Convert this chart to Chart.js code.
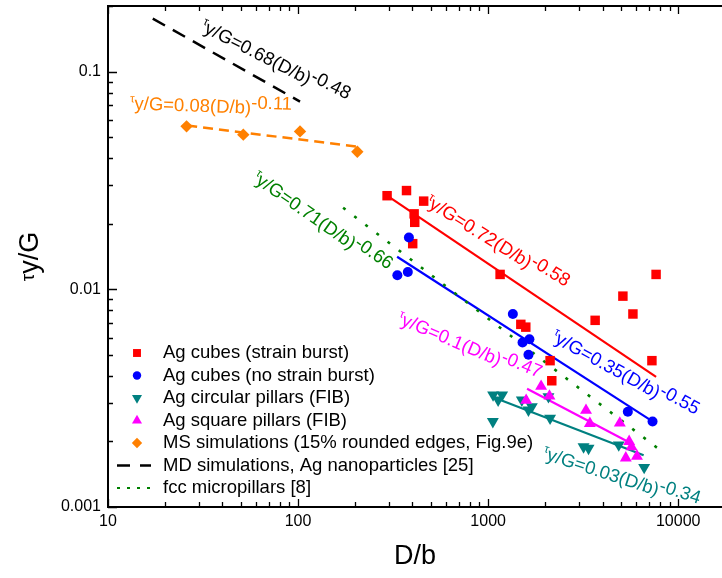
<!DOCTYPE html>
<html>
<head>
<meta charset="utf-8">
<script src="https://cdn.jsdelivr.net/npm/chart.js@4.4.0/dist/chart.umd.min.js"></script>
<style>
  html, body { margin: 0; padding: 0; background: #fff; }
</style>
</head>
<body>
<canvas id="myChart" width="722" height="578"></canvas>
<script>
// values: D/b on x, tau_y/G on y
const cubesBurstX = [294, 372, 458, 408, 411, 401, 1156, 1486, 1578, 2118, 2162, 3656, 5117, 5778, 7273, 7650];
const cubesBurstY = [0.0269, 0.0284, 0.0254, 0.0222, 0.0203, 0.0162, 0.0117, 0.0069, 0.0067, 0.0047, 0.0038, 0.0072, 0.0093, 0.0077, 0.0047, 0.0117];

const cubesNoBurstX = [383, 333, 378, 1349, 1649, 1517, 1630, 5433, 7330];
const cubesNoBurstY = [0.0173, 0.0116, 0.0120, 0.0077, 0.0059, 0.0057, 0.0050, 0.00274, 0.00247];

const circPillarX = [1062, 1185, 1129, 1059, 1504, 1630, 1698, 2077, 2118, 3177, 3375, 4866, 6620];
const circPillarY = [0.00327, 0.00327, 0.0031, 0.00247, 0.0031, 0.00279, 0.00289, 0.00321, 0.00256, 0.00189, 0.00186, 0.00193, 0.00152];

const sqPillarX = [1900, 1585, 2102, 3273, 3430, 4930, 5520, 5680, 5300, 6070];
const sqPillarY = [0.00358, 0.00309, 0.00323, 0.00278, 0.00242, 0.00243, 0.0020, 0.00189, 0.00168, 0.00171];

const msX = [25.9, 51.5, 102.4, 205];
const msY = [0.056, 0.0513, 0.0531, 0.0428];

// fitted power-law lines, end points as drawn
const redFitX = [294, 7650];      const redFitY = [0.0269, 0.00396];
const blueFitX = [332, 7290];     const blueFitY = [0.0141, 0.00248];
const magFitX = [1603, 5480];     const magFitY = [0.00349, 0.00199];
const tealFitX = [1089, 6580];    const tealFitY = [0.00317, 0.00173];
const orangeFitX = [26.1, 204.6]; const orangeFitY = [0.0565, 0.0452];
const mdX = [17.2, 102.4];        const mdY = [0.175, 0.0728];
const fccX = [172.6, 7745];       const fccY = [0.0237, 0.00187];

// tick labels
const xTickValues = [10, 100, 1000, 10000];
const xTickLabels = ['10', '100', '1000', '10000'];
const yTickValues = [0.001, 0.01, 0.1];
const yTickLabels = ['0.001', '0.01', '0.1'];

const legendLabels = [
    'Ag cubes (strain burst)',
    'Ag cubes (no strain burst)',
    'Ag circular pillars (FIB)',
    'Ag square pillars (FIB)',
    'MS simulations (15% rounded edges, Fig.9e)',
    'MD simulations, Ag nanoparticles [25]',
    'fcc micropillars [8]'
];

// equation labels
const eqBodies = ['y/G=0.68(D/b)', 'y/G=0.08(D/b)', 'y/G=0.71(D/b)', 'y/G=0.72(D/b)', 'y/G=0.35(D/b)', 'y/G=0.1(D/b)', 'y/G=0.03(D/b)'];
const eqExps = ['-0.48', '-0.11', '-0.66', '-0.58', '-0.55', '-0.47', '-0.34'];

const FONT = "'Liberation Sans', Arial, sans-serif";
const RED = '#ff0000', BLUE = '#0000ff', TEAL = '#008080', MAGENTA = '#ff00ff', ORANGE = '#ff8000', GREEN = '#008000';

function pts(xs, ys) {
    return xs.map((x, i) => ({ x: x, y: ys[i] }));
}

function labelFor(values, labels) {
    return function (value) {
        const i = values.findIndex(v => Math.abs(Math.log10(v) - Math.log10(value)) < 1e-6);
        return i >= 0 ? labels[i] : '';
    };
}

// integer mantissa 1..9 or null
function mantissa(v) {
    const e = Math.floor(Math.log10(v) + 1e-9);
    const m = v / Math.pow(10, e);
    const r = Math.round(m);
    return (Math.abs(m - r) < 1e-6 && r >= 1 && r <= 9) ? r : null;
}

// frame and inward ticks
const frameTicks = {
    id: 'frameTicks',
    afterDraw(chart) {
        const { ctx, chartArea: a, scales: { x, y } } = chart;
        ctx.save();
        ctx.strokeStyle = '#000';
        ctx.lineWidth = 1.3;
        ctx.beginPath();
        x.ticks.forEach(t => {
            const m = mantissa(t.value);
            if (m === null) return;
            const len = m === 1 ? 8 : 5;
            const px = Math.round(x.getPixelForValue(t.value)) + 0.5;
            ctx.moveTo(px, a.bottom); ctx.lineTo(px, a.bottom - len);
            ctx.moveTo(px, a.top); ctx.lineTo(px, a.top + len);
        });
        y.ticks.forEach(t => {
            const m = mantissa(t.value);
            if (m === null) return;
            const len = m === 1 ? 9 : 5;
            const py = Math.round(y.getPixelForValue(t.value)) + 0.5;
            ctx.moveTo(a.left, py); ctx.lineTo(a.left + len, py);
        });
        ctx.stroke();
        ctx.lineWidth = 2;
        ctx.beginPath();
        ctx.moveTo(a.right, a.top); ctx.lineTo(a.left, a.top);
        ctx.lineTo(a.left, a.bottom); ctx.lineTo(a.right, a.bottom);
        ctx.stroke();
        ctx.restore();
    }
};

// tau with small raised glyph, then body, then raised exponent
function drawEq(ctx, cx, cy, deg, color, body, exp, size) {
    const parts = [
        { t: '\u03c4', s: size * 0.62, dy: -size * 0.38 },
        { t: body, s: size, dy: 0 },
        { t: exp, s: size, dy: -size * 0.28 }
    ];
    let w = 0;
    parts.forEach(p => {
        ctx.font = p.s + 'px ' + FONT;
        p.w = ctx.measureText(p.t).width;
        w += p.w;
    });
    ctx.save();
    ctx.translate(cx, cy);
    ctx.rotate(deg * Math.PI / 180);
    ctx.fillStyle = color;
    ctx.textBaseline = 'alphabetic';
    ctx.textAlign = 'left';
    let x0 = -w / 2;
    parts.forEach(p => {
        ctx.font = p.s + 'px ' + FONT;
        ctx.fillText(p.t, x0, size * 0.36 + p.dy);
        x0 += p.w;
    });
    ctx.restore();
}

const eqAnchorX = [75.7, 34.8, 133.6, 1114, 5228, 794, 5012];
const eqAnchorY = [0.1115, 0.0698, 0.0204, 0.0164, 0.00408, 0.00545, 0.00137];
const eqAngles = [27, 2, 35, 32, 29, 23, 18];
const eqColors = ['#000', ORANGE, GREEN, RED, BLUE, MAGENTA, TEAL];

const equations = {
    id: 'equations',
    afterDraw(chart) {
        const { ctx, scales: { x, y } } = chart;
        eqBodies.forEach((b, i) => {
            drawEq(ctx, x.getPixelForValue(eqAnchorX[i]), y.getPixelForValue(eqAnchorY[i]),
                eqAngles[i], eqColors[i], b, eqExps[i], 18.5);
        });
        // y axis title
        ctx.save();
        ctx.translate(28, (chart.chartArea.top + chart.chartArea.bottom) / 2);
        ctx.rotate(-Math.PI / 2);
        ctx.fillStyle = '#000';
        ctx.textBaseline = 'alphabetic';
        const big = 27, small = 19;
        ctx.font = small + 'px ' + FONT;
        const wt = ctx.measureText('\u03c4').width;
        ctx.font = big + 'px ' + FONT;
        const wb = ctx.measureText('y/G').width;
        let x0 = -(wt + wb) / 2;
        ctx.font = small + 'px ' + FONT;
        ctx.fillText('\u03c4', x0, big * 0.36 - big * 0.12);
        ctx.font = big + 'px ' + FONT;
        ctx.fillText('y/G', x0 + wt, big * 0.36);
        ctx.restore();
    }
};

// legend in lower left of the plot
const legendBox = {
    id: 'legendBox',
    afterDraw(chart) {
        const ctx = chart.ctx;
        const mx = 137, tx = 163, y0 = 353, dy = 22.5;
        const marks = [
            { style: 'rect', color: RED, r: 5.6, rot: 0 },
            { style: 'circle', color: BLUE, r: 4.2, rot: 0 },
            { style: 'triangle', color: TEAL, r: 5.8, rot: 180 },
            { style: 'triangle', color: MAGENTA, r: 5.8, rot: 0 },
            { style: 'rectRot', color: ORANGE, r: 5.2, rot: 0 }
        ];
        ctx.save();
        legendLabels.forEach((txt, i) => {
            const yy = y0 + i * dy;
            if (i < marks.length) {
                const m = marks[i];
                ctx.fillStyle = m.color;
                Chart.helpers.drawPoint(ctx, { pointStyle: m.style, radius: m.r, rotation: m.rot, borderWidth: 0 }, mx, yy);
            } else {
                ctx.beginPath();
                ctx.strokeStyle = i === 5 ? '#000' : GREEN;
                ctx.lineWidth = i === 5 ? 2.5 : 2;
                ctx.setLineDash(i === 5 ? [13, 10] : [3, 7]);
                ctx.moveTo(117, yy); ctx.lineTo(151, yy);
                ctx.stroke();
                ctx.setLineDash([]);
            }
            ctx.fillStyle = '#000';
            ctx.font = '18.5px ' + FONT;
            ctx.textBaseline = 'middle';
            ctx.textAlign = 'left';
            ctx.fillText(txt, tx, yy);
        });
        ctx.restore();
    }
};

function scatterSet(label, xs, ys, color, style, r, rot) {
    return {
        label: label, data: pts(xs, ys), backgroundColor: color, borderWidth: 0,
        pointStyle: style, pointRadius: r, pointRotation: rot || 0, showLine: false
    };
}

function lineSet(label, xs, ys, color, width, dash) {
    return {
        label: label, data: pts(xs, ys), borderColor: color, borderWidth: width,
        borderDash: dash || [], pointRadius: 0, showLine: true, fill: false, tension: 0
    };
}

new Chart('myChart', {
    type: 'scatter',
    data: {
        datasets: [
            scatterSet('Ag square pillars (FIB)', sqPillarX, sqPillarY, MAGENTA, 'triangle', 6.9),
            scatterSet('Ag circular pillars (FIB)', circPillarX, circPillarY, TEAL, 'triangle', 6.9, 180),
            scatterSet('Ag cubes (no strain burst)', cubesNoBurstX, cubesNoBurstY, BLUE, 'circle', 5),
            scatterSet('Ag cubes (strain burst)', cubesBurstX, cubesBurstY, RED, 'rect', 6.7),
            scatterSet('MS simulations', msX, msY, ORANGE, 'rectRot', 6.2),
            lineSet('fcc micropillars', fccX, fccY, GREEN, 2.6, [3, 11]),
            lineSet('square fit', magFitX, magFitY, MAGENTA, 2.2),
            lineSet('circular fit', tealFitX, tealFitY, TEAL, 2.2),
            lineSet('no burst fit', blueFitX, blueFitY, BLUE, 2.2),
            lineSet('burst fit', redFitX, redFitY, RED, 2.2),
            lineSet('MS fit', orangeFitX, orangeFitY, ORANGE, 2.5, [10, 6]),
            lineSet('MD simulations', mdX, mdY, '#000', 2.5, [14, 9])
        ]
    },
    options: {
        responsive: false,
        animation: false,
        devicePixelRatio: 1,
        layout: { autoPadding: false, padding: { top: 6, right: 0, left: 0, bottom: 0 } },
        plugins: {
            legend: { display: false },
            tooltip: { enabled: false }
        },
        scales: {
            x: {
                type: 'logarithmic',
                min: 10,
                max: 17000,
                grid: { display: false, drawTicks: false },
                border: { display: false },
                ticks: {
                    autoSkip: false, maxRotation: 0, padding: 5, color: '#000',
                    font: { family: FONT, size: 16 },
                    callback: labelFor(xTickValues, xTickLabels)
                },
                title: {
                    display: true, text: 'D/b', color: '#000',
                    font: { family: FONT, size: 27 },
                    padding: { top: 0, bottom: 5 }
                },
                afterFit(scale) {
                    scale.height = 71;
                    scale.paddingLeft = 0;
                    scale.paddingRight = 0;
                }
            },
            y: {
                type: 'logarithmic',
                min: 0.001,
                max: 0.2,
                grid: { display: false, drawTicks: false },
                border: { display: false },
                ticks: {
                    autoSkip: false, padding: 7, color: '#000',
                    font: { family: FONT, size: 16 },
                    callback: labelFor(yTickValues, yTickLabels)
                },
                afterFit(scale) {
                    scale.width = 108;
                    scale.paddingTop = 0;
                    scale.paddingBottom = 0;
                }
            }
        }
    },
    plugins: [frameTicks, equations, legendBox]
});
</script>
</body>
</html>
